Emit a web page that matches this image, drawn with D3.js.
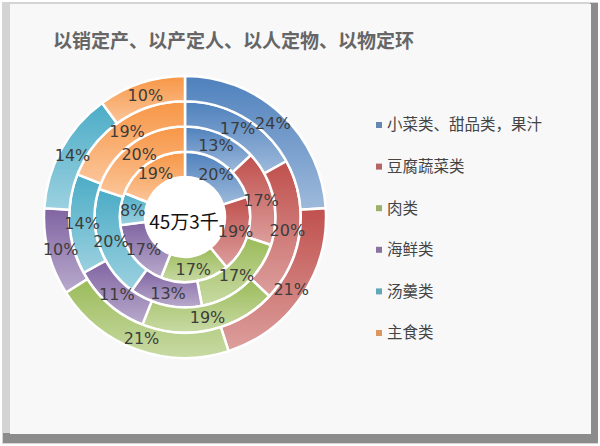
<!DOCTYPE html>
<html>
<head>
<meta charset="utf-8">
<script src="https://cdn.jsdelivr.net/npm/d3@7"></script>
<style>
  body { margin: 0; background: #fff; }
  svg { display: block; }
</style>
</head>
<body>
<svg id="chart" width="600" height="446"></svg>
<script>
// categories (legend order, also slice order clockwise from 12 o'clock)
const categories = ['小菜类、甜品类，果汁', '豆腐蔬菜类', '肉类', '海鲜类', '汤羹类', '主食类'];
const colors = ['#4f81bd', '#c0504d', '#9bbb59', '#8064a2', '#4bacc6', '#f79646'];

// one array per ring, inner -> outer (percent)
const ring1 = [20, 19, 17, 17, 8, 19];
const ring2 = [13, 17, 17, 13, 20, 20];
const ring3 = [17, 20, 19, 11, 14, 19];
const ring4 = [24, 21, 21, 10, 14, 10];
const rings = [ring1, ring2, ring3, ring4];

const title = '以销定产、以产定人、以人定物、以物定环';
const centerLabel = '45万3千';

const svg = d3.select('#chart');
const cx = 185, cy = 217;

// frame
svg.append('rect').attr('x', 0).attr('y', 0).attr('width', 600).attr('height', 446).attr('fill', '#fff');
svg.append('rect').attr('x', 2).attr('y', 2).attr('width', 596).attr('height', 442).attr('fill', '#d4d4d4');
svg.append('rect').attr('x', 3).attr('y', 433).attr('width', 594).attr('height', 10).attr('fill', '#8c8c8c');
svg.append('rect').attr('x', 590).attr('y', 3).attr('width', 8).attr('height', 440).attr('fill', '#8c8c8c');
svg.append('rect').attr('x', 10).attr('y', 4).attr('width', 581).attr('height', 430).attr('fill', '#f8f8f9');

// gradients
const defs = svg.append('defs');
colors.forEach((c, i) => {
    let g = defs.append('linearGradient')
        .attr('id', 'grad' + i)
        .attr('x1', 0).attr('y1', 0).attr('x2', 0).attr('y2', 1);
    g.append('stop').attr('offset', '0%').attr('stop-color', c);
    g.append('stop').attr('offset', '100%').attr('stop-color', d3.interpolateRgb(c, '#fff')(0.45));
});

// title
svg.append('text')
    .attr('x', 53).attr('y', 48)
    .attr('font-family', '"Noto Sans CJK SC", sans-serif')
    .attr('font-size', 19)
    .attr('font-weight', 'bold')
    .attr('fill', '#666')
    .text(title);

// radius per ring boundary
let radius = d3.scaleLinear().domain([0, rings.length]).range([40, 141]);

let pie = d3.pie().sort(null).value(d => d);

let chartG = svg.append('g').attr('transform', `translate(${cx}, ${cy})`);

chartG.append('circle').attr('r', 40).attr('fill', '#fff');

rings.forEach((values, ri) => {
    let arc = d3.arc()
        .innerRadius(radius(ri))
        .outerRadius(radius(ri + 1));

    let ringG = chartG.append('g').classed('ring', true);

    ringG.selectAll('path')
        .data(pie(values))
        .join('path')
        .attr('d', arc)
        .attr('fill', (d, i) => `url(#grad${i})`)
        .attr('stroke', '#fff')
        .attr('stroke-width', 2.5);
});

// labels on top of all rings
rings.forEach((values, ri) => {
    let arc = d3.arc()
        .innerRadius(radius(ri))
        .outerRadius(radius(ri + 1));

    chartG.append('g').selectAll('text')
        .data(pie(values))
        .join('text')
        .attr('transform', d => `translate(${arc.centroid(d)})`)
        .attr('text-anchor', 'middle')
        .attr('dy', '0.36em')
        .attr('font-family', '"DejaVu Sans", sans-serif')
        .attr('font-size', 16)
        .attr('fill', '#3c3c3c')
        .text(d => d.data + '%');
});

chartG.append('text')
    .attr('text-anchor', 'middle')
    .attr('x', -1)
    .attr('y', 5)
    .attr('dy', '0.36em')
    .attr('font-family', '"Noto Sans CJK SC", sans-serif')
    .attr('font-size', 19)
    .attr('fill', '#111')
    .text(centerLabel);

// legend
let legendY = d3.scalePoint().domain(categories).range([125, 333]);

let legendG = svg.selectAll('g.legend-item')
    .data(categories)
    .join('g')
    .classed('legend-item', true)
    .attr('transform', d => `translate(376, ${legendY(d)})`);

legendG.append('rect')
    .attr('x', 0).attr('y', -3)
    .attr('width', 6).attr('height', 6)
    .attr('fill', (d, i) => d3.interpolateRgb(colors[i], '#999')(0.3));

legendG.append('text')
    .attr('x', 11)
    .attr('dy', '0.35em')
    .attr('font-family', '"Noto Sans CJK SC", sans-serif')
    .attr('font-size', 15.5)
    .attr('fill', '#444')
    .text(d => d);
</script>
</body>
</html>
